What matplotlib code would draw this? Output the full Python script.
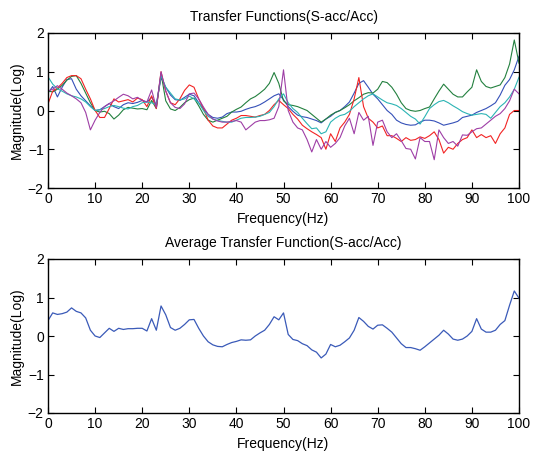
import matplotlib
matplotlib.use('Agg')
import matplotlib.pyplot as plt
import numpy as np

# frequency axis, 1 Hz steps
freq = np.arange(0, 101)

# transfer functions (log magnitude)
tf_blue = [0.45, 0.62, 0.35, 0.6, 0.8, 0.82, 0.55, 0.38, 0.25, 0.12,
           0.0, 0.02, 0.1, 0.18, 0.1, 0.05, 0.15, 0.2, 0.18, 0.21,
           0.26, 0.22, 0.34, 0.15, 0.85, 0.6, 0.4, 0.28, 0.26, 0.34,
           0.42, 0.38, 0.2, 0.04, -0.1, -0.18, -0.2, -0.17, -0.08, -0.04,
           -0.04, -0.02, 0.03, 0.07, 0.1, 0.15, 0.22, 0.3, 0.38, 0.43,
           0.28, 0.1, -0.02, -0.12, -0.16, -0.18, -0.22, -0.26, -0.32, -0.22,
           -0.15, -0.05, 0.0, 0.1, 0.22, 0.45, 0.7, 0.77, 0.6, 0.42,
           0.3, 0.15, 0.0, -0.1, -0.25, -0.32, -0.36, -0.38, -0.37, -0.3,
           -0.25, -0.25, -0.27, -0.32, -0.38, -0.35, -0.32, -0.28, -0.18, -0.15,
           -0.12, -0.05, 0.0, 0.05, 0.12, 0.2, 0.4, 0.65, 0.8, 1.05,
           1.4]
tf_green = [0.5, 0.48, 0.55, 0.65, 0.78, 0.88, 0.9, 0.7, 0.45, 0.2,
            0.0, -0.04, -0.02, -0.08, -0.22, -0.12, 0.02, 0.08, 0.06, 0.04,
            0.05, 0.02, 0.26, 0.05, 0.95, 0.25, 0.04, 0.0, 0.08, 0.2,
            0.28, 0.32, 0.12, -0.1, -0.25, -0.3, -0.25, -0.2, -0.15, -0.04,
            0.03, 0.09, 0.2, 0.3, 0.36, 0.45, 0.55, 0.7, 0.98, 0.7,
            0.25, 0.15, 0.13, 0.1, 0.05, 0.0, -0.1, -0.2, -0.3, -0.22,
            -0.12, -0.05, 0.0, 0.07, 0.15, 0.25, 0.33, 0.42, 0.46, 0.45,
            0.55, 0.75, 0.72, 0.6, 0.42, 0.2, 0.05, 0.0, -0.02, 0.0,
            0.05, 0.09, 0.3, 0.5, 0.68, 0.55, 0.42, 0.35, 0.35, 0.48,
            0.6, 1.05, 0.75, 0.62, 0.58, 0.62, 0.66, 0.85, 1.2, 1.82,
            1.22]
tf_red = [0.17, 0.5, 0.58, 0.7, 0.85, 0.9, 0.9, 0.82, 0.55, 0.3,
          0.0, -0.18, -0.18, 0.05, 0.3, 0.22, 0.25, 0.28, 0.22, 0.32,
          0.28, 0.1, 0.38, 0.05, 1.0, 0.5, 0.2, 0.15, 0.3, 0.52,
          0.66, 0.6, 0.3, 0.05, -0.25, -0.4, -0.45, -0.45, -0.35, -0.25,
          -0.2, -0.13, -0.13, -0.15, -0.17, -0.13, -0.1, 0.0, 0.15, 0.26,
          0.15, 0.05, -0.1, -0.22, -0.38, -0.47, -0.55, -0.62, -0.7, -1.0,
          -0.6, -0.8, -0.45, -0.3, -0.1, 0.3, 0.85, 0.1, -0.2, -0.3,
          -0.45, -0.4, -0.65, -0.65, -0.72, -0.8, -0.7, -0.77, -0.75, -0.68,
          -0.72, -0.65, -0.55, -0.75, -1.1, -0.95, -1.0, -0.85, -0.75, -0.7,
          -0.5, -0.7, -0.62, -0.7, -0.65, -0.85, -0.6, -0.45, -0.1, 0.0,
          0.0]
tf_cyan = [0.87, 0.68, 0.56, 0.5, 0.43, 0.38, 0.35, 0.3, 0.22, 0.1,
           0.0, 0.02, 0.05, 0.1, 0.13, 0.1, 0.06, 0.04, 0.1, 0.13,
           0.2, 0.22, 0.2, 0.15, 0.9, 0.6, 0.45, 0.3, 0.27, 0.3,
           0.37, 0.3, 0.2, 0.0, -0.15, -0.22, -0.26, -0.28, -0.3, -0.3,
           -0.25, -0.2, -0.18, -0.18, -0.17, -0.15, -0.1, -0.05, 0.1, 0.3,
           0.43, 0.2, 0.05, -0.05, -0.2, -0.34, -0.47, -0.45, -0.6, -0.55,
           -0.3, -0.2, -0.13, -0.1, -0.02, 0.1, 0.2, 0.3, 0.38, 0.43,
           0.35, 0.27, 0.2, 0.17, 0.13, 0.05, -0.05, -0.15, -0.22, -0.35,
           -0.16, 0.05, 0.15, 0.23, 0.26, 0.2, 0.12, 0.05, -0.03, -0.08,
           -0.12, -0.1, -0.08, -0.1, -0.2, -0.05, 0.1, 0.2, 0.35, 0.55,
           0.86]
tf_magenta = [0.5, 0.55, 0.64, 0.55, 0.45, 0.38, 0.3, 0.2, -0.05, -0.5,
              -0.25, -0.05, 0.1, 0.18, 0.25, 0.34, 0.42, 0.38, 0.3, 0.34,
              0.26, 0.22, 0.53, 0.08, 1.0, 0.5, 0.2, 0.08, 0.05, 0.17,
              0.43, 0.45, 0.3, 0.09, -0.1, -0.22, -0.27, -0.3, -0.3, -0.28,
              -0.26, -0.3, -0.5, -0.4, -0.3, -0.26, -0.26, -0.24, -0.2, 0.1,
              1.05, 0.0, -0.3, -0.45, -0.5, -0.75, -1.07, -0.75, -1.0, -0.8,
              -0.95, -0.85, -0.7, -0.4, -0.2, -0.6, -0.05, -0.25, -0.15, -0.9,
              -0.3, -0.25, -0.55, -0.7, -0.6, -0.78, -0.98, -1.0, -1.25, -0.7,
              -0.8, -0.8, -1.27, -0.5, -0.7, -0.85, -0.8, -0.92, -0.63, -0.64,
              -0.55, -0.47, -0.45, -0.35, -0.25, -0.15, -0.08, 0.05, 0.25, 0.55,
              0.43]

# average transfer function
tf_avg = [0.4, 0.6, 0.56, 0.58, 0.62, 0.73, 0.64, 0.6, 0.47, 0.15,
          0.0, -0.04, 0.08, 0.2, 0.12, 0.2, 0.17, 0.19, 0.19, 0.2,
          0.2, 0.13, 0.45, 0.15, 0.78, 0.55, 0.22, 0.15, 0.2, 0.3,
          0.42, 0.43, 0.2, 0.0, -0.15, -0.23, -0.27, -0.28, -0.22, -0.17,
          -0.14, -0.1, -0.11, -0.1, 0.0, 0.08, 0.15, 0.3, 0.5, 0.42,
          0.6, 0.04, -0.09, -0.12, -0.2, -0.25, -0.36, -0.42, -0.57, -0.47,
          -0.22, -0.28, -0.24, -0.15, -0.05, 0.15, 0.48, 0.38, 0.25, 0.18,
          0.28, 0.29, 0.2, 0.1, -0.05, -0.2, -0.3, -0.3, -0.33, -0.37,
          -0.28, -0.18, -0.08, 0.02, 0.15, 0.05, -0.08, -0.11, -0.08, 0.0,
          0.12, 0.45, 0.18, 0.1, 0.1, 0.15, 0.3, 0.4, 0.8, 1.17,
          0.98]

series = [tf_blue, tf_green, tf_red, tf_cyan, tf_magenta]
colors = ['#3550b8', '#23803f', '#f22424', '#2cb4b4', '#9e3ea6']

plt.rcParams['font.family'] = ['Liberation Sans', 'DejaVu Sans']
plt.rcParams['font.size'] = 10

W, H = 536, 454
fig = plt.figure(figsize=(W / 100, H / 100), dpi=100)
ax1 = fig.add_axes([48 / W, (H - 188) / H, 471 / W, 155 / H])
ax2 = fig.add_axes([48 / W, (H - 413) / H, 471 / W, 154 / H])


def style(ax, title):
    ax.set_xlim(0, 100)
    ax.set_ylim(-2, 2)
    ax.set_xticks(np.arange(0, 101, 10))
    ax.set_yticks([-2, -1, 0, 1, 2])
    ax.tick_params(direction='in', top=True, right=True, length=4,
                   width=0.8, pad=3, labelsize=10)
    for s in ax.spines.values():
        s.set_linewidth(1.0)
    ax.set_xlabel('Frequency(Hz)', fontsize=10, labelpad=4)
    ax.set_ylabel('Magnitude(Log)', fontsize=10, labelpad=3)
    ax.set_title(title, fontsize=10, pad=9)


for vals, c in zip(series, colors):
    ax1.plot(freq, vals, color=c, linewidth=0.8)
style(ax1, 'Transfer Functions(S-acc/Acc)')

ax2.plot(freq, tf_avg, color='#3a5ab8', linewidth=0.9)
style(ax2, 'Average Transfer Function(S-acc/Acc)')

fig.savefig('out.png', dpi=100)
